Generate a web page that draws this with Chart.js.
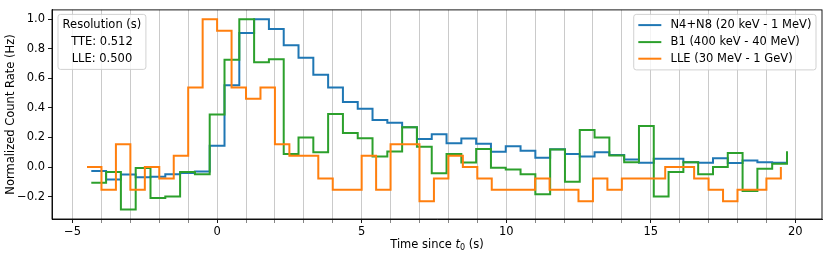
<!DOCTYPE html>
<html>
<head>
<meta charset="utf-8">
<script src="https://cdn.jsdelivr.net/npm/chart.js@4.4.1/dist/chart.umd.min.js"></script>
<style>
  html, body { margin: 0; padding: 0; background: #fff; }
  #wrap { width: 830px; height: 256px; }
</style>
</head>
<body>
<div id="wrap"><canvas id="lc" width="830" height="256"></canvas></div>
<script>
// bin starts (step 'post'), TTE 0.512 s and LLE 0.5 s
const tteTime = [-4.352, -3.840, -3.328, -2.816, -2.304, -1.792, -1.280, -0.768, -0.256, 0.256,
    0.768, 1.280, 1.792, 2.304, 2.816, 3.328, 3.840, 4.352, 4.864, 5.376,
    5.888, 6.400, 6.912, 7.424, 7.936, 8.448, 8.960, 9.472, 9.984, 10.496,
    11.008, 11.520, 12.032, 12.544, 13.056, 13.568, 14.080, 14.592, 15.104, 15.616,
    16.128, 16.640, 17.152, 17.664, 18.176, 18.688, 19.200, 19.712];
const lleTime = [-4.5, -4.0, -3.5, -3.0, -2.5, -2.0, -1.5, -1.0, -0.5, 0.0,
    0.5, 1.0, 1.5, 2.0, 2.5, 3.0, 3.5, 4.0, 4.5, 5.0,
    5.5, 6.0, 6.5, 7.0, 7.5, 8.0, 8.5, 9.0, 9.5, 10.0,
    10.5, 11.0, 11.5, 12.0, 12.5, 13.0, 13.5, 14.0, 14.5, 15.0,
    15.5, 16.0, 16.5, 17.0, 17.5, 18.0, 18.5, 19.0, 19.5];

// N4+N8
const naiRate = [-0.027, -0.084, -0.050, -0.070, -0.066, -0.049, -0.040, -0.030, 0.144, 0.554,
    0.908, 1.000, 0.935, 0.824, 0.740, 0.625, 0.538, 0.440, 0.395, 0.318,
    0.300, 0.270, 0.190, 0.222, 0.161, 0.193, 0.158, 0.104, 0.140, 0.111,
    0.062, 0.120, 0.089, 0.071, 0.100, 0.082, 0.051, 0.029, 0.056, 0.056,
    0.033, 0.029, 0.060, 0.027, 0.044, 0.033, 0.029, 0.029];
// B1
const bgoRate = [-0.106, -0.033, -0.288, -0.007, -0.210, -0.200, -0.033, -0.049, 0.355, 0.727,
    1.000, 0.709, 0.730, 0.089, 0.200, 0.100, 0.359, 0.231, 0.194, 0.071,
    0.105, 0.270, 0.138, -0.042, 0.089, 0.030, 0.122, -0.005, -0.017, -0.049,
    -0.184, 0.118, -0.100, 0.250, 0.200, 0.078, 0.033, 0.277, -0.200, -0.033,
    0.033, -0.049, 0.000, 0.095, -0.162, -0.011, 0.022, 0.106];
// LLE
const lleRate = [0.000, -0.154, 0.154, -0.154, 0.000, -0.077, 0.077, 0.538, 1.000, 0.923,
    0.538, 0.462, 0.538, 0.154, 0.077, 0.077, -0.077, -0.154, -0.154, 0.077,
    -0.154, 0.154, 0.154, -0.231, -0.077, 0.077, 0.000, -0.077, -0.154, -0.154,
    -0.154, -0.077, -0.154, -0.154, -0.231, -0.077, -0.154, -0.077, -0.077, -0.077,
    0.000, 0.000, -0.077, -0.154, -0.231, -0.154, -0.154, -0.077, 0.000];

const seriesLabels = ['N4+N8 (20 keV - 1 MeV)', 'B1 (400 keV - 40 MeV)', 'LLE (30 MeV - 1 GeV)'];
const seriesColors = ['#1f77b4', '#2ca02c', '#ff7f0e'];
const resolutionText = ['Resolution (s)', 'TTE: 0.512', 'LLE: 0.500'];
const xTitleParts = ['Time since ', 't', '0', ' (s)'];

const FONT = 'DejaVu Sans';
const FS = 11.5;
Chart.defaults.font.family = FONT;
Chart.defaults.font.size = FS;
Chart.defaults.color = '#000';

function toPoints(times, values) {
    return times.map((t, i) => ({ x: t, y: values[i] }));
}

function minus(s) {
    return String(s).replace('-', '\u2212');
}

function roundRect(ctx, x, y, w, h, r) {
    ctx.beginPath();
    ctx.moveTo(x + r, y);
    ctx.lineTo(x + w - r, y);
    ctx.arcTo(x + w, y, x + w, y + r, r);
    ctx.lineTo(x + w, y + h - r);
    ctx.arcTo(x + w, y + h, x + w - r, y + h, r);
    ctx.lineTo(x + r, y + h);
    ctx.arcTo(x, y + h, x, y + h - r, r);
    ctx.lineTo(x, y + r);
    ctx.arcTo(x, y, x + r, y, r);
    ctx.closePath();
}

function drawBox(ctx, x, y, w, h) {
    roundRect(ctx, x, y, w, h, 2.5);
    ctx.fillStyle = 'rgba(255,255,255,0.8)';
    ctx.fill();
    ctx.strokeStyle = '#cccccc';
    ctx.lineWidth = 0.9;
    ctx.stroke();
}

// x label with italic t and subscript 0, like mathtext
function drawXTitle(ctx, a) {
    const normal = FS + 'px "' + FONT + '"';
    const italic = 'italic ' + FS + 'px "' + FONT + '"';
    const small = (FS * 0.7).toFixed(2) + 'px "' + FONT + '"';
    const fonts = [normal, italic, small, normal];
    const widths = xTitleParts.map((p, i) => { ctx.font = fonts[i]; return ctx.measureText(p).width; });
    const total = widths.reduce((s, w) => s + w, 0);
    let x = (a.left + a.right) / 2 - total / 2;
    const base = 248.3;
    ctx.fillStyle = '#000';
    ctx.textAlign = 'left';
    ctx.textBaseline = 'alphabetic';
    xTitleParts.forEach((p, i) => {
        ctx.font = fonts[i];
        ctx.fillText(p, x, i === 2 ? base + 2 : base);
        x += widths[i];
    });
}

// frame on all four sides + the two legend boxes
const framePlugin = {
    id: 'frame',
    afterDraw(chart) {
        const { ctx, chartArea: a } = chart;
        ctx.save();
        ctx.strokeStyle = '#000';
        ctx.lineWidth = 0.9;
        ctx.strokeRect(a.left, a.top, a.right - a.left, a.bottom - a.top);

        drawXTitle(ctx, a);

        ctx.font = FS + 'px "' + FONT + '"';
        ctx.textBaseline = 'middle';
        const rowY = [10.7, 27.7, 44.3];

        // resolution box (top left)
        const wRes = Math.max(...resolutionText.map(t => ctx.measureText(t).width)) + 9.2;
        const bx = a.left + 6, by = a.top + 4.5;
        drawBox(ctx, bx, by, wRes, 55);
        ctx.fillStyle = '#000';
        ctx.textAlign = 'center';
        resolutionText.forEach((t, i) => ctx.fillText(t, bx + wRes / 2, by + rowY[i]));

        // series legend (top right)
        const wLeg = Math.max(...seriesLabels.map(t => ctx.measureText(t).width)) + 4.6 + 23 + 9.2 + 4.6;
        const lx = a.right - 6 - wLeg, ly = a.top + 4.5;
        drawBox(ctx, lx, ly, wLeg, 55.5);
        ctx.textAlign = 'left';
        seriesLabels.forEach((t, i) => {
            const yy = ly + rowY[i];
            ctx.strokeStyle = seriesColors[i];
            ctx.lineWidth = 2;
            ctx.beginPath();
            ctx.moveTo(lx + 4.6, yy);
            ctx.lineTo(lx + 4.6 + 23, yy);
            ctx.stroke();
            ctx.fillStyle = '#000';
            ctx.fillText(t, lx + 4.6 + 23 + 9.2, yy);
        });
        ctx.restore();
    }
};

function stepSet(label, color, points) {
    return {
        label: label,
        data: points,
        borderColor: color,
        borderWidth: 2,
        pointRadius: 0,
        stepped: 'before',
        fill: false,
        borderJoinStyle: 'miter'
    };
}

// LLE first so it is drawn on top, as in the original
const datasets = [
    stepSet(seriesLabels[2], seriesColors[2], toPoints(lleTime, lleRate)),
    stepSet(seriesLabels[1], seriesColors[1], toPoints(tteTime, bgoRate)),
    stepSet(seriesLabels[0], seriesColors[0], toPoints(tteTime, naiRate))
];

new Chart(document.getElementById('lc'), {
    type: 'line',
    data: { datasets: datasets },
    options: {
        responsive: false,
        animation: false,
        events: [],
        layout: { padding: { left: 0, top: 6, right: 8, bottom: 0 } },
        plugins: { legend: { display: false }, tooltip: { enabled: false } },
        scales: {
            x: {
                type: 'linear',
                min: -5.711,
                max: 20.923,
                afterFit: s => { s.height = 37; },
                border: { color: '#000', width: 0.9 },
                grid: {
                    color: '#c4c4c4',
                    lineWidth: 0.9,
                    tickLength: 4,
                    tickColor: c => (c.tick && c.tick.value % 5 === 0) ? '#000' : '#777',
                    tickWidth: 0.9
                },
                ticks: {
                    stepSize: 1,
                    includeBounds: false,
                    autoSkip: false,
                    maxRotation: 0,
                    padding: 2,
                    callback: v => (v % 5 === 0 ? minus(v) : '')
                }
            },
            y: {
                min: -0.352,
                max: 1.064,
                afterFit: s => { s.width = 52; },
                border: { color: '#000', width: 0.9 },
                grid: {
                    drawOnChartArea: false,
                    tickLength: 4,
                    tickColor: '#000',
                    tickWidth: 0.9
                },
                ticks: {
                    stepSize: 0.2,
                    includeBounds: false,
                    padding: 3,
                    callback: v => minus(Number(v).toFixed(1))
                },
                title: {
                    display: true,
                    text: 'Normalized Count Rate (Hz)',
                    padding: { top: 4, bottom: 0 }
                }
            }
        }
    },
    plugins: [framePlugin]
});
</script>
</body>
</html>
